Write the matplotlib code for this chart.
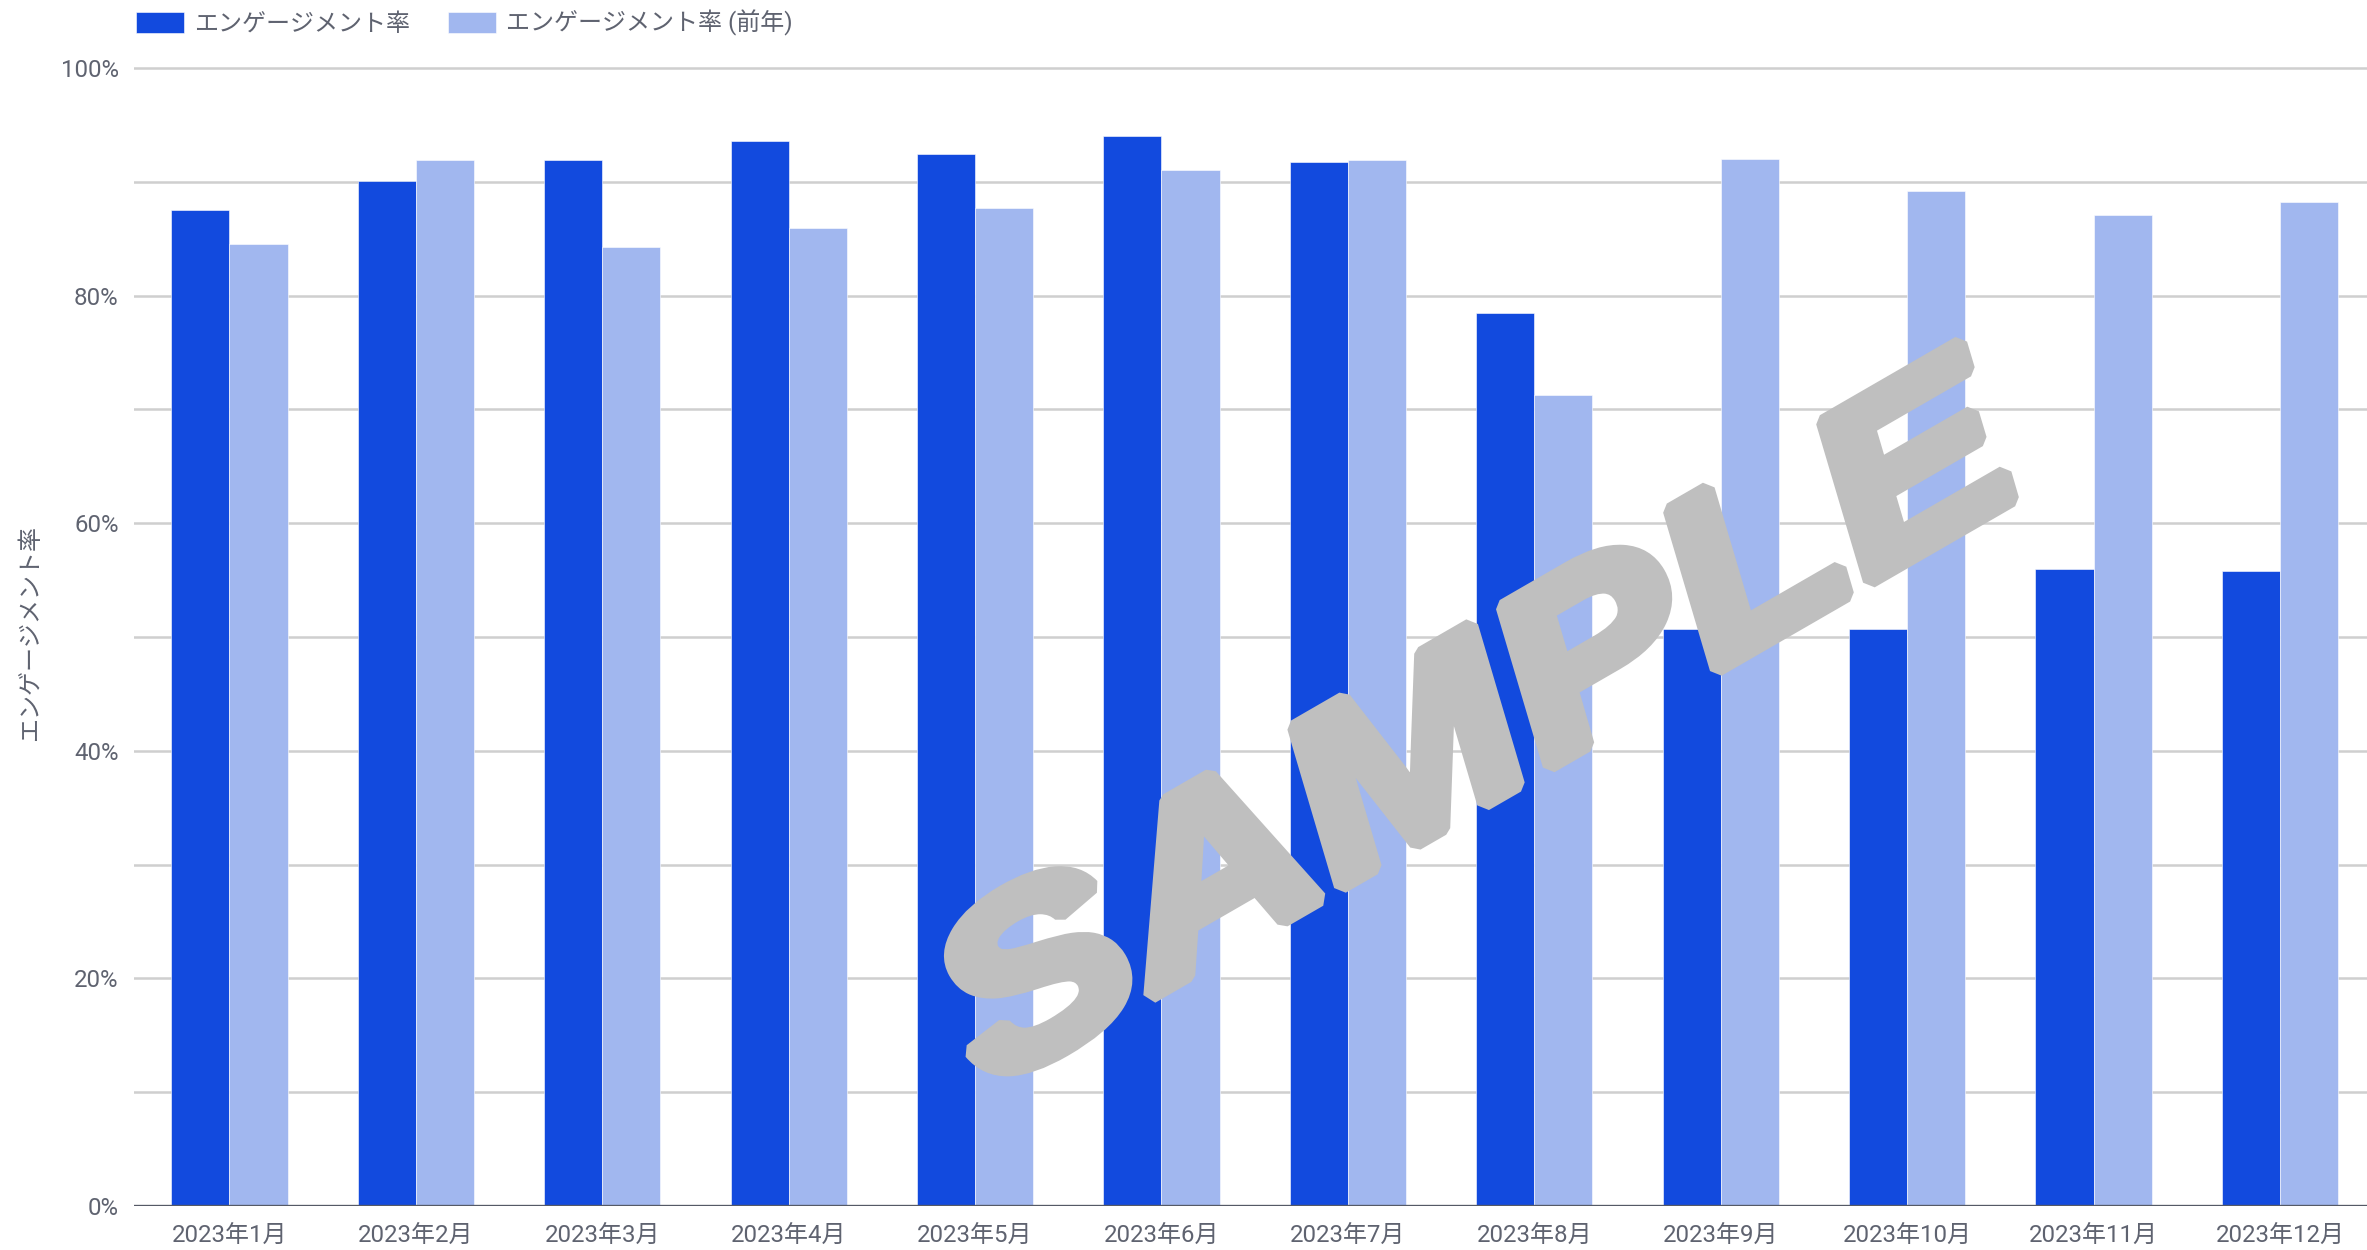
import numpy as np
import matplotlib
matplotlib.use("Agg")
import matplotlib.pyplot as plt
from matplotlib.patheffects import AbstractPathEffect
from matplotlib.transforms import Affine2D
from matplotlib.ticker import MultipleLocator, FuncFormatter

# ---- data ----
months = ["2023年1月", "2023年2月", "2023年3月", "2023年4月", "2023年5月", "2023年6月",
          "2023年7月", "2023年8月", "2023年9月", "2023年10月", "2023年11月", "2023年12月"]
engagement = [87.5, 90.1, 91.9, 93.6, 92.4, 94.0, 91.7, 78.5, 50.7, 50.7, 56.0, 55.8]
engagement_prev = [84.5, 91.9, 84.3, 85.9, 87.7, 91.0, 91.9, 71.3, 92.0, 89.2, 87.1, 88.2]
series_names = ["エンゲージメント率", "エンゲージメント率 (前年)"]
y_label = "エンゲージメント率"
watermark = "SAMPLE"

DARK = "#124ade"
LIGHT = "#a1b7ef"
GRID = "#cfcfcf"
TEXT = "#5f6370"
BASE = "#555a66"
WM = "#bfbfbf"

plt.rcParams['font.family'] = ['Roboto', 'Noto Sans CJK JP', 'DejaVu Sans']
FS = 17.3

W, H = 2367, 1250
fig = plt.figure(figsize=(W / 100, H / 100), dpi=100)
AX_L = 134
AX_W = W - AX_L
ax = fig.add_axes([AX_L / W, 44 / H, AX_W / W, (1206 - 60) / H])

x = np.arange(len(months))
bw = 0.312
b1 = ax.bar(x - bw / 2, engagement, bw, color=DARK, edgecolor="white", linewidth=0.4,
            label=series_names[0], zorder=2)
b2 = ax.bar(x + bw / 2, engagement_prev, bw, color=LIGHT, edgecolor="white", linewidth=0.4,
            label=series_names[1], zorder=2)

ax.set_xlim(-0.512, 11.467)
ax.set_ylim(0, 100.7)
ax.yaxis.set_major_locator(MultipleLocator(20))
ax.yaxis.set_minor_locator(MultipleLocator(10))
ax.yaxis.set_major_formatter(FuncFormatter(lambda v, p: f"{v:.0f}%"))
ax.grid(axis="y", which="both", color=GRID, linewidth=1.8, zorder=0)
ax.set_axisbelow(True)
for s in ax.spines.values():
    s.set_visible(False)
ax.axhline(0, color=BASE, linewidth=2.4, zorder=3)

ax.set_xticks(x)
ax.set_xticklabels(months)
ax.tick_params(axis="both", which="both", length=0, labelsize=FS, labelcolor=TEXT)
ax.tick_params(axis="x", pad=13)
ax.tick_params(axis="y", pad=11)
ax.set_ylabel(y_label, fontsize=FS, color=TEXT)
ax.yaxis.label.set_va("center")
ax.yaxis.set_label_coords((31 - AX_L) / AX_W, 0.5)

leg = fig.legend(handles=[b1, b2], loc="upper left", bbox_to_anchor=(136 / W, 1 - 10 / H),
                 ncol=2, frameon=False, fontsize=FS, handlelength=2.0, handleheight=1.0,
                 handletextpad=0.4, columnspacing=1.6, borderpad=0, borderaxespad=0)
for t in leg.get_texts():
    t.set_color(TEXT)


class Warp(AbstractPathEffect):
    """Widen and embolden the glyph outlines of the watermark text."""
    def __init__(self, sx, lw, color):
        super().__init__()
        self.sx, self.lw, self.color = sx, lw, color

    def draw_path(self, renderer, gc, tpath, affine, rgbFace=None):
        ext = tpath.get_extents()
        cx, cy = (ext.x0 + ext.x1) / 2, (ext.y0 + ext.y1) / 2
        pre = Affine2D().translate(-cx, -cy).scale(self.sx, 1).translate(cx, cy)
        gc0 = renderer.new_gc()
        gc0.copy_properties(gc)
        gc0.set_linewidth(self.lw)
        gc0.set_foreground(self.color)
        gc0.set_joinstyle("bevel")
        renderer.draw_path(gc0, tpath, pre + affine, rgbFace)
        gc0.restore()


fig.text(1482 / W, 1 - 735 / H, watermark, fontsize=168, family="Liberation Sans",
         fontweight="bold", fontstyle="italic", color=WM, rotation=30,
         ha="center", va="center", zorder=10,
         path_effects=[Warp(1.24, 11.5, WM)])

fig.savefig("out.png", dpi=100)
